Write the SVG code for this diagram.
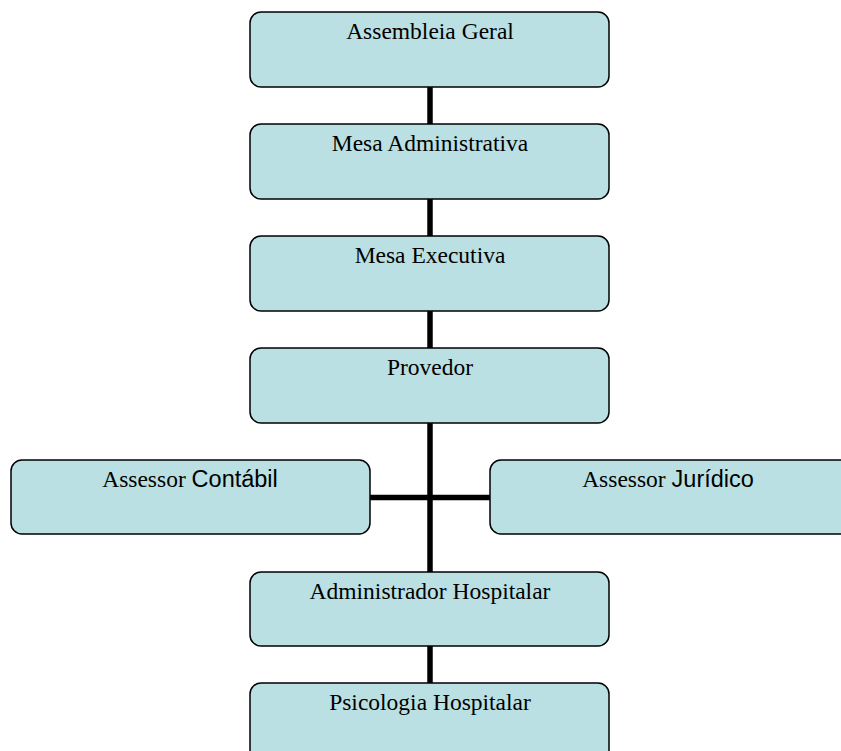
<svg xmlns="http://www.w3.org/2000/svg" width="841" height="751" viewBox="0 0 841 751">
<style>
.box{fill:#bae0e3;stroke:#000;stroke-width:1.5}
.t{font-family:"Liberation Serif",serif;font-size:23.5px;fill:#000;text-anchor:middle}
.s{font-family:"Liberation Sans",sans-serif}
.c{stroke:#000;stroke-width:5.5;fill:none}
</style>
<rect width="841" height="751" fill="#fff"/>
<g id="connectors">
<line class="c" x1="430" y1="87" x2="430" y2="124"/>
<line class="c" x1="430" y1="199" x2="430" y2="236"/>
<line class="c" x1="430" y1="311" x2="430" y2="348"/>
<line class="c" x1="430" y1="423" x2="430" y2="572"/>
<line class="c" x1="370" y1="497.5" x2="490" y2="497.5"/>
<line class="c" x1="430" y1="646" x2="430" y2="683"/>
</g>
<g id="n1"><rect class="box" x="250" y="12" width="359" height="75" rx="11"/><text class="t" x="430" y="39">Assembleia Geral</text></g>
<g id="n2"><rect class="box" x="250" y="124" width="359" height="75" rx="11"/><text class="t" x="430" y="151">Mesa Administrativa</text></g>
<g id="n3"><rect class="box" x="250" y="236" width="359" height="75" rx="11"/><text class="t" x="430" y="263">Mesa Executiva</text></g>
<g id="n4"><rect class="box" x="250" y="348" width="359" height="75" rx="11"/><text class="t" x="430" y="375">Provedor</text></g>
<g id="n5"><rect class="box" x="11" y="460" width="359" height="74" rx="11"/><text class="t" x="190" y="487">Assessor <tspan class="s">Contábil</tspan></text></g>
<g id="n6"><rect class="box" x="490" y="460" width="370" height="74" rx="11"/><text class="t" x="668" y="487">Assessor <tspan class="s">Jurídico</tspan></text></g>
<g id="n7"><rect class="box" x="250" y="572" width="359" height="74" rx="11"/><text class="t" x="430" y="599">Administrador Hospitalar</text></g>
<g id="n8"><rect class="box" x="250" y="683" width="359" height="80" rx="11"/><text class="t" x="430" y="710">Psicologia Hospitalar</text></g>
</svg>
